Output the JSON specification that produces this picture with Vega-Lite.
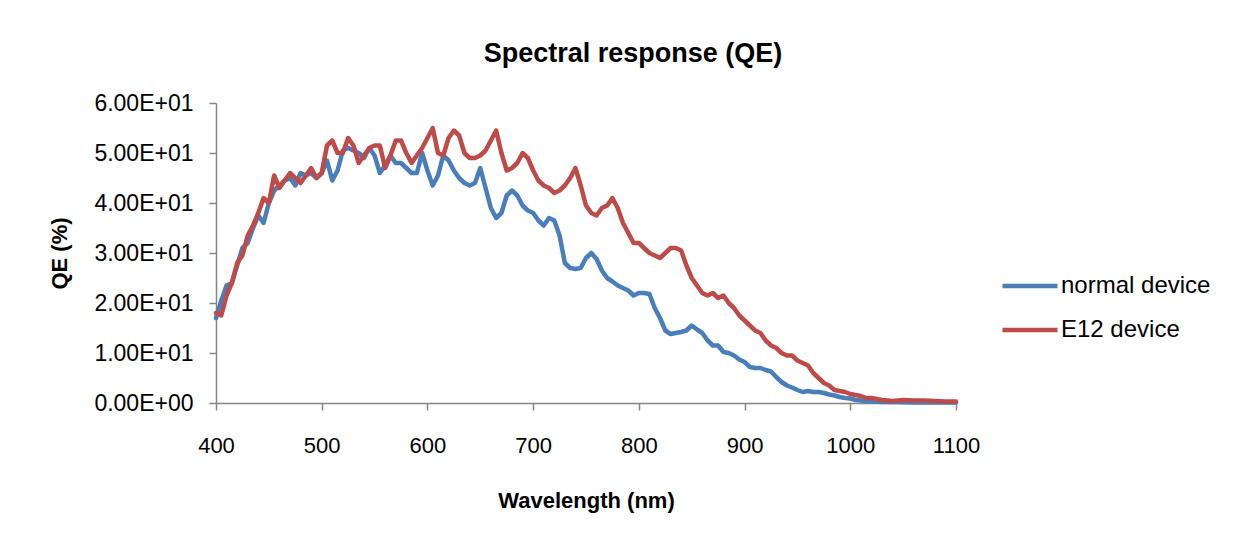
{
  "$schema": "https://vega.github.io/schema/vega-lite/v6.json",
  "autosize": "none",
  "width": 740,
  "height": 300,
  "padding": {"left": 216, "top": 103, "right": 303, "bottom": 137},
  "background": "white",
  "title": {
    "text": "Spectral response (QE)",
    "font": "Liberation Sans",
    "fontSize": 27,
    "fontWeight": "bold",
    "color": "black",
    "anchor": "middle",
    "dx": 47,
    "offset": 24
  },
  "config": {
    "view": {"stroke": null},
    "axis": {
      "labelFont": "Liberation Sans",
      "labelFontSize": 22,
      "labelColor": "black",
      "titleFont": "Liberation Sans",
      "titleFontSize": 22,
      "titleFontWeight": "bold",
      "titleColor": "black",
      "domainColor": "#868686",
      "domainWidth": 1.5,
      "tickColor": "#868686",
      "tickWidth": 1.5,
      "tickSize": 7,
      "grid": false
    },
    "legend": {
      "labelFont": "Liberation Sans",
      "labelFontSize": 24,
      "labelColor": "black"
    }
  },
  "data": {
    "values": [
      {"w":400,"normal device":17,"E12 device":18},
      {"w":405,"normal device":20.5,"E12 device":17.5},
      {"w":410,"normal device":23.5,"E12 device":21.5},
      {"w":415,"normal device":24,"E12 device":24},
      {"w":420,"normal device":27.5,"E12 device":28},
      {"w":425,"normal device":31,"E12 device":29.5},
      {"w":430,"normal device":32,"E12 device":33.5},
      {"w":435,"normal device":35,"E12 device":35.5},
      {"w":440,"normal device":37.5,"E12 device":38},
      {"w":445,"normal device":36,"E12 device":41},
      {"w":450,"normal device":40,"E12 device":40},
      {"w":455,"normal device":42.5,"E12 device":45.5},
      {"w":460,"normal device":43.5,"E12 device":43},
      {"w":465,"normal device":44.5,"E12 device":44.5},
      {"w":470,"normal device":45,"E12 device":46},
      {"w":475,"normal device":43.5,"E12 device":45},
      {"w":480,"normal device":46,"E12 device":44},
      {"w":485,"normal device":45.5,"E12 device":45.5},
      {"w":490,"normal device":46,"E12 device":47},
      {"w":495,"normal device":45,"E12 device":45},
      {"w":500,"normal device":46,"E12 device":46},
      {"w":505,"normal device":48.5,"E12 device":51.5},
      {"w":510,"normal device":44.5,"E12 device":52.5},
      {"w":515,"normal device":46.5,"E12 device":50},
      {"w":520,"normal device":50.5,"E12 device":50},
      {"w":525,"normal device":51,"E12 device":53},
      {"w":530,"normal device":50.5,"E12 device":51.5},
      {"w":535,"normal device":50,"E12 device":48},
      {"w":540,"normal device":49,"E12 device":49.5},
      {"w":545,"normal device":51,"E12 device":51},
      {"w":550,"normal device":49.5,"E12 device":51.5},
      {"w":555,"normal device":46,"E12 device":51.5},
      {"w":560,"normal device":47.5,"E12 device":47},
      {"w":565,"normal device":49.5,"E12 device":49.5},
      {"w":570,"normal device":48,"E12 device":52.5},
      {"w":575,"normal device":48,"E12 device":52.5},
      {"w":580,"normal device":47,"E12 device":50},
      {"w":585,"normal device":46,"E12 device":48},
      {"w":590,"normal device":46,"E12 device":49.5},
      {"w":595,"normal device":50,"E12 device":51},
      {"w":600,"normal device":46.5,"E12 device":53},
      {"w":605,"normal device":43.5,"E12 device":55},
      {"w":610,"normal device":45.5,"E12 device":50},
      {"w":615,"normal device":49.5,"E12 device":49.5},
      {"w":620,"normal device":48.5,"E12 device":53},
      {"w":625,"normal device":46.5,"E12 device":54.5},
      {"w":630,"normal device":45,"E12 device":53.5},
      {"w":635,"normal device":44,"E12 device":50},
      {"w":640,"normal device":43.5,"E12 device":49},
      {"w":645,"normal device":44,"E12 device":49},
      {"w":650,"normal device":47,"E12 device":49.5},
      {"w":655,"normal device":43,"E12 device":50.5},
      {"w":660,"normal device":39,"E12 device":52.5},
      {"w":665,"normal device":37,"E12 device":54.5},
      {"w":670,"normal device":38,"E12 device":50},
      {"w":675,"normal device":41.5,"E12 device":46.5},
      {"w":680,"normal device":42.5,"E12 device":47},
      {"w":685,"normal device":41.5,"E12 device":48},
      {"w":690,"normal device":39.5,"E12 device":50},
      {"w":695,"normal device":38.5,"E12 device":49},
      {"w":700,"normal device":38,"E12 device":46.5},
      {"w":705,"normal device":36.5,"E12 device":44.5},
      {"w":710,"normal device":35.5,"E12 device":43.5},
      {"w":715,"normal device":37,"E12 device":43},
      {"w":720,"normal device":36.5,"E12 device":42},
      {"w":725,"normal device":33.5,"E12 device":42.5},
      {"w":730,"normal device":28,"E12 device":43.5},
      {"w":735,"normal device":27,"E12 device":45},
      {"w":740,"normal device":26.8,"E12 device":47},
      {"w":745,"normal device":27,"E12 device":43.5},
      {"w":750,"normal device":29,"E12 device":39.5},
      {"w":755,"normal device":30,"E12 device":38},
      {"w":760,"normal device":28.8,"E12 device":37.5},
      {"w":765,"normal device":26.5,"E12 device":39},
      {"w":770,"normal device":25,"E12 device":39.5},
      {"w":775,"normal device":24.3,"E12 device":41},
      {"w":780,"normal device":23.5,"E12 device":39},
      {"w":785,"normal device":23,"E12 device":36},
      {"w":790,"normal device":22.5,"E12 device":34},
      {"w":795,"normal device":21.5,"E12 device":32},
      {"w":800,"normal device":22,"E12 device":32},
      {"w":805,"normal device":22,"E12 device":31},
      {"w":810,"normal device":21.8,"E12 device":30},
      {"w":815,"normal device":19,"E12 device":29.5},
      {"w":820,"normal device":17,"E12 device":29},
      {"w":825,"normal device":14.5,"E12 device":30},
      {"w":830,"normal device":13.8,"E12 device":31},
      {"w":835,"normal device":14,"E12 device":31},
      {"w":840,"normal device":14.2,"E12 device":30.5},
      {"w":845,"normal device":14.5,"E12 device":27.5},
      {"w":850,"normal device":15.5,"E12 device":25},
      {"w":855,"normal device":14.7,"E12 device":23.5},
      {"w":860,"normal device":14,"E12 device":22},
      {"w":865,"normal device":12.5,"E12 device":21.5},
      {"w":870,"normal device":11.5,"E12 device":22},
      {"w":875,"normal device":11.5,"E12 device":21},
      {"w":880,"normal device":10.2,"E12 device":21.5},
      {"w":885,"normal device":10,"E12 device":20},
      {"w":890,"normal device":9.5,"E12 device":19},
      {"w":895,"normal device":8.7,"E12 device":17.5},
      {"w":900,"normal device":8.2,"E12 device":16.5},
      {"w":905,"normal device":7.2,"E12 device":15.5},
      {"w":910,"normal device":7,"E12 device":14.5},
      {"w":915,"normal device":7,"E12 device":14},
      {"w":920,"normal device":6.6,"E12 device":12.5},
      {"w":925,"normal device":6.3,"E12 device":11.5},
      {"w":930,"normal device":5.2,"E12 device":11},
      {"w":935,"normal device":4.2,"E12 device":10},
      {"w":940,"normal device":3.5,"E12 device":9.5},
      {"w":945,"normal device":3.1,"E12 device":9.5},
      {"w":950,"normal device":2.6,"E12 device":8.5},
      {"w":955,"normal device":2.2,"E12 device":8},
      {"w":960,"normal device":2.4,"E12 device":7.5},
      {"w":965,"normal device":2.2,"E12 device":6},
      {"w":970,"normal device":2.2,"E12 device":5},
      {"w":975,"normal device":2,"E12 device":4},
      {"w":980,"normal device":1.7,"E12 device":3.5},
      {"w":985,"normal device":1.5,"E12 device":2.6},
      {"w":990,"normal device":1.2,"E12 device":2.4},
      {"w":995,"normal device":1,"E12 device":2.2},
      {"w":1000,"normal device":0.9,"E12 device":1.8},
      {"w":1005,"normal device":0.6,"E12 device":1.6},
      {"w":1010,"normal device":0.5,"E12 device":1.4},
      {"w":1015,"normal device":0.4,"E12 device":1},
      {"w":1020,"normal device":0.3,"E12 device":1},
      {"w":1030,"normal device":0.2,"E12 device":0.6},
      {"w":1040,"normal device":0.2,"E12 device":0.4},
      {"w":1050,"normal device":0.15,"E12 device":0.6},
      {"w":1060,"normal device":0.1,"E12 device":0.5},
      {"w":1070,"normal device":0.1,"E12 device":0.5},
      {"w":1080,"normal device":0.1,"E12 device":0.4},
      {"w":1090,"normal device":0.1,"E12 device":0.3},
      {"w":1100,"normal device":0.1,"E12 device":0.3}
    ]
  },
  "transform": [
    {"fold": ["normal device", "E12 device"], "as": ["s", "q"]}
  ],
  "mark": {"type": "line", "strokeWidth": 4.5, "strokeJoin": "round", "strokeCap": "round"},
  "encoding": {
    "x": {
      "field": "w",
      "type": "quantitative",
      "scale": {"domain": [400, 1100], "nice": false, "zero": false},
      "axis": {
        "title": "Wavelength (nm)",
        "values": [400, 500, 600, 700, 800, 900, 1000, 1100],
        "format": "d",
        "labelPadding": 25,
        "titlePadding": 34,
        "labelFlush": false
      }
    },
    "y": {
      "field": "q",
      "type": "quantitative",
      "scale": {"domain": [0, 60], "nice": false},
      "axis": {
        "title": "QE (%)",
        "values": [0, 10, 20, 30, 40, 50, 60],
        "labelExpr": "replace(replace(upper(format(datum.value, '.2e')), 'E+', 'E+0'), 'E-', 'E-0')",
        "labelFontSize": 23,
        "labelPadding": 16,
        "titlePadding": 22
      }
    },
    "color": {
      "field": "s",
      "type": "nominal",
      "scale": {"domain": ["normal device", "E12 device"], "range": ["#4A7EBB", "#BE4B48"]},
      "legend": {
        "title": null,
        "orient": "none",
        "legendX": 784,
        "legendY": 153,
        "symbolType": "stroke",
        "symbolSize": 3025,
        "symbolStrokeWidth": 4.5,
        "labelOffset": 1,
        "rowPadding": 2
      }
    }
  }
}
